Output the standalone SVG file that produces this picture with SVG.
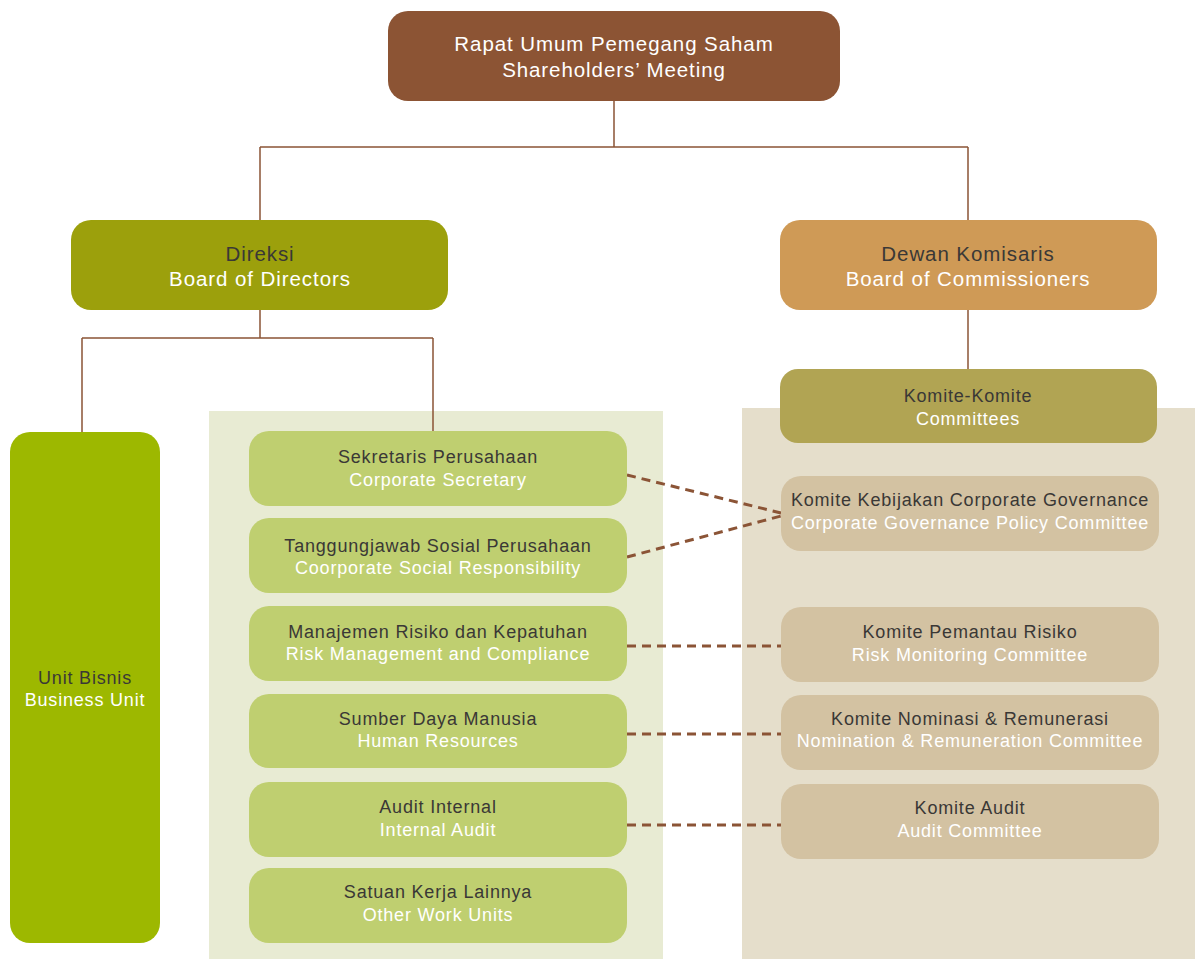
<svg xmlns="http://www.w3.org/2000/svg" width="1195" height="959" viewBox="0 0 1195 959">
<style>
text{font-family:"Liberation Sans",Arial,sans-serif;text-anchor:middle;letter-spacing:0.045em}
.t{font-size:18px}
.b{font-size:20.5px}
.d{fill:#3a3836}
.w{fill:#ffffff}
.ln{stroke:#8B5436;stroke-width:1.5;fill:none}
.ds{stroke:#8B5436;stroke-width:3;fill:none;stroke-dasharray:9 6}
.li{fill:#BFCF70}
.ri{fill:#D3C2A2}
</style>
<rect x="209" y="411" width="454" height="548" fill="#E8EBD3"/>
<rect x="742" y="408" width="453" height="551" fill="#E5DECB"/>
<g id="connectors">
<path class="ln" d="M614 101V147M260 147H968M260 147V220M968 147V220"/>
<path class="ln" d="M260 310V338M82 338H433M82 338V432M433 338V431"/>
<path class="ln" d="M968 310V369"/>
<path class="ds" d="M627 475L781 513M627 557L781 516M627 646H781M627 734H781M627 825H781"/>
</g>
<g id="rups">
<rect x="388" y="11" width="452" height="90" rx="20" fill="#8C5434"/>
<text class="b w" x="614" y="51">Rapat Umum Pemegang Saham</text>
<text class="b w" x="614" y="77">Shareholders’ Meeting</text>
</g>
<g id="direksi">
<rect x="71" y="220" width="377" height="90" rx="20" fill="#9CA00C"/>
<text class="b d" x="260" y="261">Direksi</text>
<text class="b w" x="260" y="286">Board of Directors</text>
</g>
<g id="dekom">
<rect x="780" y="220" width="377" height="90" rx="20" fill="#CF9A56"/>
<text class="b d" x="968" y="261">Dewan Komisaris</text>
<text class="b w" x="968" y="286">Board of Commissioners</text>
</g>
<g id="komite">
<rect x="780" y="369" width="377" height="74" rx="18" fill="#B1A453"/>
<text class="t d" x="968" y="402">Komite-Komite</text>
<text class="t w" x="968" y="425">Committees</text>
</g>
<g id="unitbisnis">
<rect x="10" y="432" width="150" height="511" rx="20" fill="#9DB800"/>
<text class="t d" x="85" y="684">Unit Bisnis</text>
<text class="t w" x="85" y="706">Business Unit</text>
</g>
<g id="sekper">
<rect class="li" x="249" y="431" width="378" height="75" rx="20"/>
<text class="t d" x="438" y="463">Sekretaris Perusahaan</text>
<text class="t w" x="438" y="486">Corporate Secretary</text>
</g>
<g id="csr">
<rect class="li" x="249" y="518" width="378" height="75" rx="20"/>
<text class="t d" x="438" y="552">Tanggungjawab Sosial Perusahaan</text>
<text class="t w" x="438" y="574">Coorporate Social Responsibility</text>
</g>
<g id="risk">
<rect class="li" x="249" y="606" width="378" height="75" rx="20"/>
<text class="t d" x="438" y="638">Manajemen Risiko dan Kepatuhan</text>
<text class="t w" x="438" y="660">Risk Management and Compliance</text>
</g>
<g id="sdm">
<rect class="li" x="249" y="694" width="378" height="74" rx="20"/>
<text class="t d" x="438" y="725">Sumber Daya Manusia</text>
<text class="t w" x="438" y="747">Human Resources</text>
</g>
<g id="audit">
<rect class="li" x="249" y="782" width="378" height="75" rx="20"/>
<text class="t d" x="438" y="813">Audit Internal</text>
<text class="t w" x="438" y="836">Internal Audit</text>
</g>
<g id="lainnya">
<rect class="li" x="249" y="868" width="378" height="75" rx="20"/>
<text class="t d" x="438" y="898">Satuan Kerja Lainnya</text>
<text class="t w" x="438" y="921">Other Work Units</text>
</g>
<g id="kkcg">
<rect class="ri" x="781" y="476" width="378" height="75" rx="20"/>
<text class="t d" x="970" y="506">Komite Kebijakan Corporate Governance</text>
<text class="t w" x="970" y="529">Corporate Governance Policy Committee</text>
</g>
<g id="kpr">
<rect class="ri" x="781" y="607" width="378" height="75" rx="20"/>
<text class="t d" x="970" y="638">Komite Pemantau Risiko</text>
<text class="t w" x="970" y="661">Risk Monitoring Committee</text>
</g>
<g id="knr">
<rect class="ri" x="781" y="695" width="378" height="75" rx="20"/>
<text class="t d" x="970" y="725">Komite Nominasi &amp; Remunerasi</text>
<text class="t w" x="970" y="747">Nomination &amp; Remuneration Committee</text>
</g>
<g id="ka">
<rect class="ri" x="781" y="784" width="378" height="75" rx="20"/>
<text class="t d" x="970" y="814">Komite Audit</text>
<text class="t w" x="970" y="837">Audit Committee</text>
</g>
</svg>
